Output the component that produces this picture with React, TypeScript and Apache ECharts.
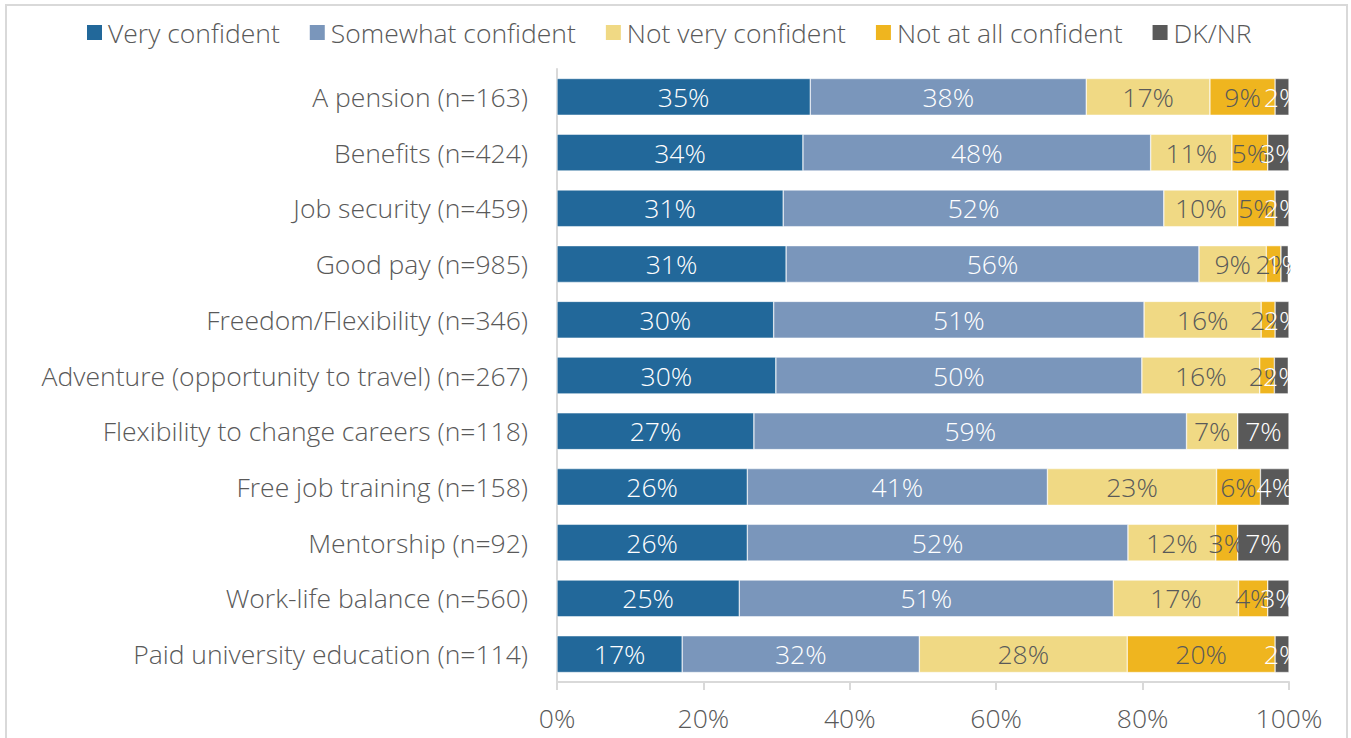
import React, { useEffect, useRef } from "react";
import * as echarts from "echarts";

const categories = [
  "A pension (n=163)",
  "Benefits (n=424)",
  "Job security (n=459)",
  "Good pay (n=985)",
  "Freedom/Flexibility (n=346)",
  "Adventure (opportunity to travel) (n=267)",
  "Flexibility to change careers (n=118)",
  "Free job training (n=158)",
  "Mentorship (n=92)",
  "Work-life balance (n=560)",
  "Paid university education (n=114)",
];

const veryConfident = [34.6, 33.6, 30.9, 31.3, 29.6, 29.9, 26.9, 26.0, 26.0, 24.9, 17.1];
const somewhatConfident = [37.7, 47.5, 52.0, 56.4, 50.6, 50.0, 59.1, 41.0, 52.0, 51.1, 32.4];
const notVeryConfident = [16.9, 11.1, 10.1, 9.2, 16.0, 16.1, 7.0, 23.1, 12.0, 17.1, 28.4];
const notAtAllConfident = [8.9, 4.9, 5.1, 2.0, 1.9, 2.0, 0, 6.0, 3.0, 4.0, 20.2];
const dkNr = [1.9, 2.9, 1.9, 1.0, 1.9, 1.9, 7.0, 4.0, 7.0, 2.9, 1.9];

const xTicks = [0, 20, 40, 60, 80, 100];

const seriesDefs = [
  { name: "Very confident", data: veryConfident, color: "#22689A", label: "#FFFFFF" },
  { name: "Somewhat confident", data: somewhatConfident, color: "#7A96BB", label: "#FFFFFF" },
  { name: "Not very confident", data: notVeryConfident, color: "#F0D984", label: "#595959" },
  { name: "Not at all confident", data: notAtAllConfident, color: "#EFB51F", label: "#595959" },
  { name: "DK/NR", data: dkNr, color: "#595959", label: "#FFFFFF" },
];

const FONT = "'Open Sans', sans-serif";
const FS = 26.5;
const FW = 300;

export default function App() {
  const ref = useRef<HTMLDivElement>(null);
  useEffect(() => {
    if (!ref.current) return;
    const chart = echarts.init(ref.current, null, { renderer: "svg" });
    chart.setOption({
      animation: false,
      backgroundColor: "#FFFFFF",
      textStyle: { fontFamily: FONT, fontWeight: FW },
      graphic: [
        {
          type: "rect",
          shape: { x: 6, y: 5, width: 1341, height: 800 },
          style: { fill: "none", stroke: "#D9D9D9", lineWidth: 2 },
          silent: true,
        },
      ],
      legend: {
        top: 14,
        left: 80,
        itemWidth: 17,
        itemHeight: 17,
        itemGap: 28,
        icon: "rect",
        textStyle: { fontSize: FS, color: "#595959", fontFamily: FONT, fontWeight: FW },
        data: seriesDefs.map((s) => s.name),
      },
      grid: { left: 557, right: 62, top: 69, bottom: 56, containLabel: false },
      xAxis: {
        type: "value",
        min: 0,
        max: 100,
        interval: 20,
        axisLine: { show: true, lineStyle: { color: "#D9D9D9", width: 2 } },
        axisTick: { show: true, length: 8, lineStyle: { color: "#D9D9D9", width: 2 } },
        splitLine: { show: false },
        axisLabel: {
          fontSize: FS,
          color: "#595959",
          margin: 22,
          fontFamily: FONT,
          fontWeight: FW,
          formatter: (v: number) => (xTicks.includes(v) ? `${v}%` : ""),
        },
      },
      yAxis: {
        type: "category",
        data: categories,
        inverse: true,
        axisLine: { show: true, lineStyle: { color: "#D9D9D9", width: 2 } },
        axisTick: { show: false },
        axisLabel: { fontSize: FS, color: "#595959", margin: 29, fontFamily: FONT, fontWeight: FW },
      },
      series: seriesDefs.map((s) => ({
        name: s.name,
        type: "bar",
        stack: "total",
        barCategoryGap: "34%",
        data: s.data,
        itemStyle: { color: s.color, borderColor: "#FFFFFF", borderWidth: 0.5 },
        label: {
          show: true,
          position: "inside",
          fontSize: FS,
          color: s.label,
          fontFamily: FONT,
          fontWeight: FW,
          formatter: (p: any) => (p.value > 0 ? `${Math.round(p.value)}%` : ""),
        },
      })),
    });
    return () => chart.dispose();
  }, []);
  return (
    <div
      ref={ref}
      style={{ position: "fixed", left: 0, top: 0, width: 1351, height: 738 }}
    />
  );
}
